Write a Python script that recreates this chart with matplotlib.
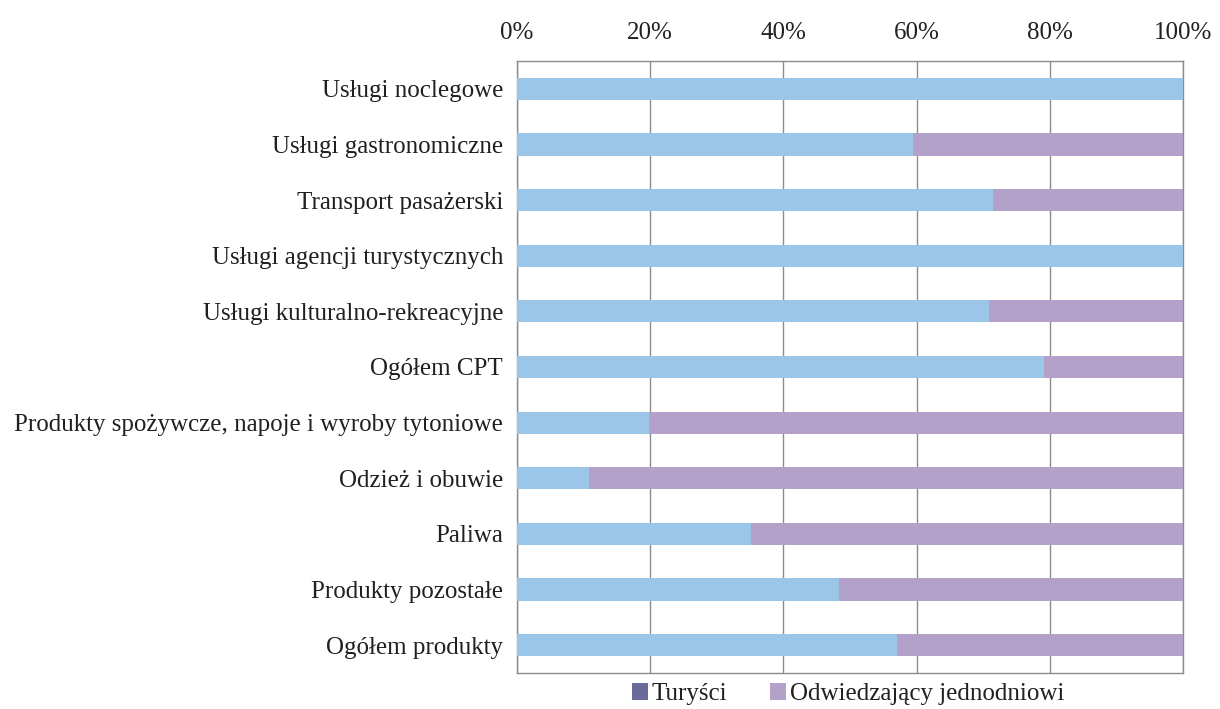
import matplotlib
matplotlib.use("Agg")
import matplotlib.pyplot as plt
from matplotlib.patches import Patch
import numpy as np

categories = [
    "Usługi noclegowe",
    "Usługi gastronomiczne",
    "Transport pasażerski",
    "Usługi agencji turystycznych",
    "Usługi kulturalno-rekreacyjne",
    "Ogółem CPT",
    "Produkty spożywcze, napoje i wyroby tytoniowe",
    "Odzież i obuwie",
    "Paliwa",
    "Produkty pozostałe",
    "Ogółem produkty",
]
turysci = [100.0, 59.4, 71.4, 100.0, 70.8, 79.1, 19.8, 10.8, 35.1, 48.3, 57.0]
jednodniowi = [100 - v for v in turysci]
xticks = [0, 20, 40, 60, 80, 100]
xtick_labels = ["0%", "20%", "40%", "60%", "80%", "100%"]
series_names = ["Turyści", "Odwiedzający jednodniowi"]

plt.rcParams['font.family'] = ['Liberation Serif', 'DejaVu Serif']
TXT = "#231f20"
BLUE = "#9cc6e8"
PURPLE = "#b4a1c9"
LEG_DARK = "#6a6a9c"
GRID = "#8c8c8c"
FS = 18

fig = plt.figure(figsize=(12.2, 7.09), dpi=100)
ax = fig.add_axes([517/1220, 36/709, 666/1220, 612/709])

y = np.arange(len(categories))
ax.barh(y, turysci, height=0.4, color=BLUE, zorder=3)
ax.barh(y, jednodniowi, left=turysci, height=0.4, color=PURPLE, zorder=3)

ax.set_xlim(0, 100)
ax.set_ylim(len(categories) - 0.5, -0.5)
ax.set_yticks(y)
ax.set_yticklabels(categories, fontsize=FS, color=TXT)
ax.set_xticks(xticks)
ax.set_xticklabels(xtick_labels, fontsize=FS, color=TXT)
ax.xaxis.tick_top()
ax.tick_params(axis='y', length=0, pad=10)
ax.tick_params(axis='x', length=0, pad=12)
ax.grid(axis='x', color=GRID, linewidth=1.0, zorder=0)
for s in ax.spines.values():
    s.set_color(GRID)
    s.set_linewidth(1.0)

handles = [Patch(facecolor=LEG_DARK, edgecolor='none'),
           Patch(facecolor=PURPLE, edgecolor='none')]
leg = fig.legend(handles, series_names, loc='center', bbox_to_anchor=(848/1220, 1 - 694/709),
                 ncol=2, frameon=False, fontsize=FS, handlelength=0.64, handleheight=0.64,
                 handletextpad=0.15, columnspacing=1.7, borderpad=0, borderaxespad=0)
for t in leg.get_texts():
    t.set_color(TXT)

fig.savefig("out.png", dpi=100)
